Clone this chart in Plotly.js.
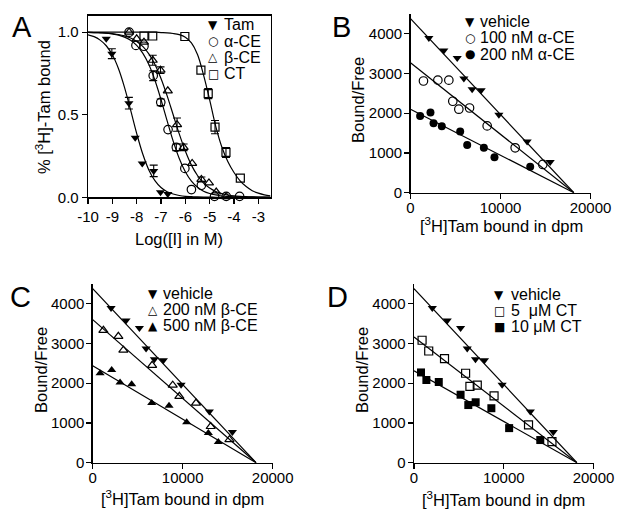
<!DOCTYPE html>
<html><head><meta charset="utf-8">
<script src="https://cdn.plot.ly/plotly-3.0.1.min.js"></script>
<style>html,body{margin:0;padding:0;background:#fff}</style>
</head><body>
<div id="chart" style="width:617px;height:517px"></div>
<script>
// ---------- Panel A: competition binding ----------
const tamX = [-9.25, -9.02, -8.32, -8.06, -7.77, -7.30, -7.02, -6.72];
const tamY = [0.96, 0.87, 0.57, 0.36, 0.205, 0.16, 0.03, 0.02];
const tamErr = [NaN, 0.03, 0.035, NaN, NaN, 0.035, NaN, NaN];

const alphaX = [-8.31, -8.03, -7.70, -7.32, -7.01, -6.71, -6.37, -6.02, -5.75, -5.34, -4.80, -4.32, -3.77];
const alphaY = [1.0, 0.92, 0.915, 0.737, 0.575, 0.41, 0.303, 0.175, 0.047, 0.073, 0.006, 0.006, 0.006];
const alphaErr = [NaN, NaN, NaN, 0.03, 0.02, NaN, 0.02, NaN, NaN, NaN, NaN, NaN, NaN];

const betaX = [-8.31, -8.0, -7.70, -7.34, -7.02, -6.72, -6.34, -6.07, -5.72, -5.34, -5.03, -4.73, -4.32];
const betaY = [1.0, 0.96, 0.94, 0.83, 0.77, 0.645, 0.44, 0.303, 0.205, 0.108, 0.087, 0.032, 0.004];
const betaErr = [NaN, NaN, NaN, 0.03, 0.02, NaN, 0.04, 0.02, NaN, 0.015, NaN, NaN, NaN];

const ctX = [-7.70, -7.34, -6.02, -5.36, -5.06, -4.78, -4.33, -3.74];
const ctY = [0.977, 0.977, 0.974, 0.77, 0.628, 0.425, 0.272, 0.116];
const ctErr = [NaN, NaN, NaN, NaN, 0.03, 0.04, 0.03, NaN];

// fitted curves
const curveX = [-10, -9.75, -9.5, -9.25, -9, -8.75, -8.5, -8.25, -8, -7.75, -7.5, -7.25, -7, -6.75, -6.5, -6.25,
                -6, -5.75, -5.5, -5.25, -5, -4.75, -4.5, -4.25, -4, -3.75, -3.5, -3.25, -3, -2.75, -2.5];
const tamCurve = [0.984, 0.973, 0.952, 0.918, 0.863, 0.780, 0.666, 0.529, 0.387, 0.262, 0.166, 0.101, 0.059, 0.034, 0.020, 0.011,
                  0.006, 0.004, 0.002, 0.001, 0.001, 0, 0, 0, 0, 0, 0, 0, 0, 0, 0];
const alphaCurve = [0.999, 0.998, 0.996, 0.994, 0.989, 0.982, 0.970, 0.951, 0.920, 0.873, 0.804, 0.709, 0.592, 0.464, 0.340, 0.235,
                    0.155, 0.098, 0.061, 0.037, 0.023, 0.014, 0.008, 0.005, 0.003, 0.002, 0.001, 0.001, 0, 0, 0];
const betaCurve = [0.999, 0.998, 0.997, 0.995, 0.991, 0.986, 0.978, 0.965, 0.944, 0.914, 0.869, 0.805, 0.720, 0.616, 0.500, 0.384,
                   0.280, 0.195, 0.132, 0.086, 0.056, 0.035, 0.022, 0.014, 0.009, 0.006, 0.004, 0.002, 0.001, 0.001, 0];
const ctCurve = [1, 1, 1, 1, 1, 1, 1, 1, 1, 1, 1, 1, 0.998, 0.996, 0.992, 0.985,
                 0.970, 0.935, 0.865, 0.740, 0.590, 0.430, 0.305, 0.215, 0.150, 0.100, 0.065, 0.040, 0.025, 0.015, 0.009];

const aTickVals = [-10, -9, -8, -7, -6, -5, -4, -3];
const aTickText = ['-10', '-9', '-8', '-7', '-6', '-5', '-4', '-3'];
const aYTickVals = [0, 0.5, 1.0];
const aYTickText = ['0.0', '0.5', '1.0'];

// ---------- Panels B-D: Scatchard ----------
const vehX = [2040, 3700, 5190, 5930, 6850, 7850, 9820, 12960, 15520];
const vehY = [3890, 3580, 3390, 2870, 2600, 2580, 1960, 1290, 770];

const a100X = [1440, 3040, 4260, 4700, 5370, 6560, 8520, 11630, 14700];
const a100Y = [2810, 2830, 2830, 2300, 2100, 2130, 1680, 1130, 710];
const a200X = [1070, 2220, 2560, 3480, 5520, 6300, 8150, 9330, 13300];
const a200Y = [1930, 2020, 1750, 1670, 1540, 1200, 1130, 890, 650];

const b200X = [1190, 2850, 3410, 6600, 8890, 9630, 11480, 13110, 15190];
const b200Y = [3330, 3180, 2830, 2450, 1950, 1670, 1500, 910, 580];
const b500X = [820, 2110, 3040, 4330, 6560, 8480, 10440, 12850, 13960];
const b500Y = [2250, 2330, 2020, 1975, 1500, 1430, 1020, 750, 520];

const ct5X = [900, 1640, 3400, 5750, 6230, 7050, 8920, 12760, 15370];
const ct5Y = [3080, 2810, 2620, 2250, 1920, 1950, 1680, 950, 530];
const ct10X = [780, 1380, 2760, 5190, 6050, 6870, 8620, 10600, 14070];
const ct10Y = [2270, 2080, 2030, 1710, 1450, 1520, 1370, 870, 570];

// fitted Scatchard lines: y-intercept -> common x-intercept
const lineX = [0, 18150];
const vehLine = [4380, 0];
const a100Line = [3270, 0];
const a200Line = [2100, 0];
const b200Line = [3600, 0];
const b500Line = [2440, 0];
const ct5Line = [3160, 0];
const ct10Line = [2310, 0];

const sTickX = [0, 10000, 20000];
const sTickXText = ['0', '10000', '20000'];
const sTickY = [0, 1000, 2000, 3000, 4000];
const sTickYText = ['0', '1000', '2000', '3000', '4000'];

// legend labels
const legA = ['Tam', 'α-CE', 'β-CE', 'CT'];
const legB = ['vehicle', '100 nM α-CE', '200 nM α-CE'];
const legC = ['vehicle', '200 nM β-CE', '500 nM β-CE'];
const legD = ['vehicle', '5\u00a0\u00a0μM CT', '10 μM CT'];
const glyA = ['▼', '○', '△', '□'];
const glyB = ['▼', '○', '●'];
const glyC = ['▼', '△', '▲'];
const glyD = ['▼', '□', '■'];

// ---------- build ----------
const W = 617, H = 517;
const px = x => x / W;
const py = y => 1 - y / H;
const FONT = 'Liberation Sans, Arial, Helvetica, sans-serif';
const K = '#000';

function mk(symbol, size) {
  const open = symbol.indexOf('open') >= 0;
  return {symbol: symbol, size: size, color: K, line: {color: K, width: open ? 1.2 : 0}};
}
function pts(x, y, xa, ya, symbol, size, err) {
  const t = {x: x, y: y, xaxis: xa, yaxis: ya, mode: 'markers', type: 'scatter', marker: mk(symbol, size), cliponaxis: false, hoverinfo: 'skip'};
  if (err) t.error_y = {type: 'data', array: err, visible: true, color: K, thickness: 1.1, width: 4};
  return t;
}
function ln(x, y, xa, ya, shape) {
  return {x: x, y: y, xaxis: xa, yaxis: ya, mode: 'lines', type: 'scatter', line: {color: K, width: 1.2, shape: shape || 'linear'}, hoverinfo: 'skip'};
}

const traces = [
  ln(curveX, tamCurve, 'x', 'y', 'spline'),
  ln(curveX, alphaCurve, 'x', 'y', 'spline'),
  ln(curveX, betaCurve, 'x', 'y', 'spline'),
  ln(curveX, ctCurve, 'x', 'y', 'spline'),
  pts(tamX, tamY, 'x', 'y', 'triangle-down', 8, tamErr),
  pts(alphaX, alphaY, 'x', 'y', 'circle-open', 8.5, alphaErr),
  pts(betaX, betaY, 'x', 'y', 'triangle-up-open', 8, betaErr),
  pts(ctX, ctY, 'x', 'y', 'square-open', 8, ctErr),

  ln(lineX, vehLine, 'x2', 'y2'), ln(lineX, a100Line, 'x2', 'y2'), ln(lineX, a200Line, 'x2', 'y2'),
  pts(vehX, vehY, 'x2', 'y2', 'triangle-down', 8),
  pts(a100X, a100Y, 'x2', 'y2', 'circle-open', 8.5),
  pts(a200X, a200Y, 'x2', 'y2', 'circle', 8),

  ln(lineX, vehLine, 'x3', 'y3'), ln(lineX, b200Line, 'x3', 'y3'), ln(lineX, b500Line, 'x3', 'y3'),
  pts(vehX, vehY, 'x3', 'y3', 'triangle-down', 8),
  pts(b200X, b200Y, 'x3', 'y3', 'triangle-up-open', 8),
  pts(b500X, b500Y, 'x3', 'y3', 'triangle-up', 8),

  ln(lineX, vehLine, 'x4', 'y4'), ln(lineX, ct5Line, 'x4', 'y4'), ln(lineX, ct10Line, 'x4', 'y4'),
  pts(vehX, vehY, 'x4', 'y4', 'triangle-down', 8),
  pts(ct5X, ct5Y, 'x4', 'y4', 'square-open', 8),
  pts(ct10X, ct10Y, 'x4', 'y4', 'square', 8)
];

const base = {showline: true, linecolor: K, linewidth: 1.3, ticks: 'outside', ticklen: 5, tickwidth: 1.3, tickcolor: K,
  showgrid: false, zeroline: false, fixedrange: true, tickfont: {family: FONT, size: 15, color: K}, tickmode: 'array'};
const ax = o => Object.assign({}, base, o);

const layout = {
  width: W, height: H, margin: {l: 0, r: 0, t: 0, b: 0}, showlegend: false,
  paper_bgcolor: '#fff', plot_bgcolor: 'rgba(0,0,0,0)', font: {family: FONT, color: K},
  xaxis: ax({domain: [px(88), px(270.5)], range: [-10, -2.5], tickvals: aTickVals, ticktext: aTickText, mirror: true, anchor: 'y'}),
  yaxis: ax({domain: [py(197.3), py(15.7)], range: [0, 1.1], tickvals: aYTickVals, ticktext: aYTickText, mirror: true, anchor: 'x'}),
  xaxis2: ax({domain: [px(410.5), px(590.5)], range: [0, 20000], tickvals: sTickX, ticktext: sTickXText, anchor: 'y2', ticklabelstandoff: -4}),
  yaxis2: ax({domain: [py(192.7), py(13.8)], range: [0, 4500], tickvals: sTickY, ticktext: sTickYText, anchor: 'x2', ticklabelstandoff: -1}),
  xaxis3: ax({domain: [px(92.7), px(272.7)], range: [0, 20000], tickvals: sTickX, ticktext: sTickXText, anchor: 'y3', ticklabelstandoff: -4}),
  yaxis3: ax({domain: [py(462.7), py(283.8)], range: [0, 4500], tickvals: sTickY, ticktext: sTickYText, anchor: 'x3', ticklabelstandoff: -1}),
  xaxis4: ax({domain: [px(414), px(593.5)], range: [0, 20000], tickvals: sTickX, ticktext: sTickXText, anchor: 'y4', ticklabelstandoff: -4}),
  yaxis4: ax({domain: [py(462.7), py(283.8)], range: [0, 4500], tickvals: sTickY, ticktext: sTickYText, anchor: 'x4', ticklabelstandoff: -1}),
  annotations: []
};

const ann = layout.annotations;
function txt(text, x, y, size, opts) {
  ann.push(Object.assign({text: text, x: px(x), y: py(y), xref: 'paper', yref: 'paper', showarrow: false,
    xanchor: 'center', yanchor: 'middle', font: {family: FONT, size: size, color: K}, borderpad: 0}, opts || {}));
}
// panel letters
txt('A', 21.5, 27, 29); txt('B', 341.5, 27, 29); txt('C', 21, 297, 29); txt('D', 337, 297, 29);
// axis titles
const boundTitle = '[<sup>3</sup>H]Tam bound in dpm';
txt('Log([I] in M)', 179, 239, 16.5);
txt('% [<sup>3</sup>H]-Tam bound', 43, 107, 16.5, {textangle: -90});
txt(boundTitle, 501, 225, 16.5); txt('Bound/Free', 358, 100, 16.5, {textangle: -90});
txt(boundTitle, 182, 498, 16.5); txt('Bound/Free', 41, 370, 16.5, {textangle: -90});
txt(boundTitle, 503, 499, 16.5); txt('Bound/Free', 362, 370, 16.5, {textangle: -90});
// legends
function legend(glyphs, labels, gx, tx, y0, dy) {
  glyphs.forEach((g, i) => {
    txt(g, gx, y0 + i * dy, 12, {font: {family: 'DejaVu Sans', size: 12, color: K}});
    txt(labels[i], tx, y0 + i * dy, 16, {xanchor: 'left'});
  });
}
legend(glyA, legA, 213, 223, 24.5, 16.5);
legend(glyB, legB, 470, 479, 22, 16);
legend(glyC, legC, 152.5, 161.5, 293.5, 16);
legend(glyD, legD, 499.5, 509.5, 294.5, 16);

Plotly.newPlot('chart', traces, layout, {staticPlot: true, displayModeBar: false});
</script></body></html>
